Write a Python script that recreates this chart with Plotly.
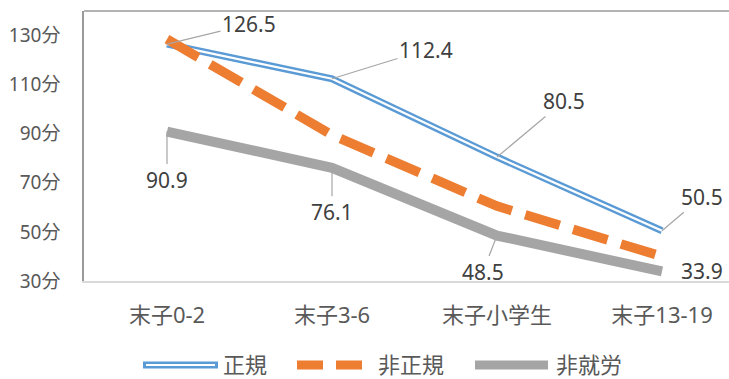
import plotly.graph_objects as go

# ---- data ----
categories = ["末子0-2", "末子3-6", "末子小学生", "末子13-19"]
seiki = [126.5, 112.4, 80.5, 50.5]        # 正規
hiseiki = [128.5, 89.5, 60.5, 40.0]       # 非正規
hishuro = [90.9, 76.1, 48.5, 33.9]        # 非就労
series_names = ["正規", "非正規", "非就労"]
tick_vals = [30, 50, 70, 90, 110, 130]
tick_text = [f"{v}分" for v in tick_vals]

# ---- styles ----
BLUE, ORANGE, GRAY = "#5b9bd5", "#ed7d31", "#a5a5a5"
FONT = "Noto Sans, Noto Sans CJK JP, sans-serif"
W, H = 729, 379
ML, MR, MT, MB = 84, 0, 11, 98
PW, PH = W - ML - MR, H - MT - MB

# (ax, ay, leader line?)
seiki_label_off = [(82, -20, True), (94, -29, True), (67, -56, True), (40, -34, True)]
hishuro_label_off = [(0, 48, True), (0, 44, True), (-14, 36, True), (40, 0, False)]

fig = go.Figure()
fig.add_trace(go.Scatter(x=categories, y=seiki, mode="lines", name=series_names[0],
                         line=dict(color=BLUE, width=7), showlegend=False, hoverinfo="skip"))
fig.add_trace(go.Scatter(x=categories, y=seiki, mode="lines", name=series_names[0],
                         line=dict(color="white", width=2.2), showlegend=False))
fig.add_trace(go.Scatter(x=categories, y=hiseiki, mode="lines", name=series_names[1],
                         line=dict(color=ORANGE, width=9.5, dash="36px,14px"), showlegend=False))
fig.add_trace(go.Scatter(x=categories, y=hishuro, mode="lines", name=series_names[2],
                         line=dict(color=GRAY, width=10), showlegend=False))

annotations = []
label_font = dict(family=FONT, size=21, color="#404040")
for series, offs in ((seiki, seiki_label_off), (hishuro, hishuro_label_off)):
    for cat, val, (ax, ay, leader) in zip(categories, series, offs):
        annotations.append(dict(
            x=cat, y=val, xref="x", yref="y", text=f"{val}",
            showarrow=leader, ax=ax, ay=ay, axref="pixel", ayref="pixel",
            arrowhead=0, arrowwidth=1.2, arrowcolor="#a6a6a6", standoff=0,
            xshift=0 if leader else ax, yshift=0 if leader else -ay,
            font=label_font,
        ))

# ---- manual legend ----
def px_x(p):
    return (p - ML) / PW

def px_y(p):
    return (MT + PH - p) / PH

shapes = []
ly = px_y(365)
# top border of plot area
shapes.append(dict(type="line", xref="paper", yref="paper", x0=0, x1=1, y0=1, y1=1,
                   line=dict(color="#9a9a9a", width=1.5)))
# 正規 (double line)
shapes.append(dict(type="line", xref="paper", yref="paper", x0=px_x(143), x1=px_x(218),
                   y0=ly, y1=ly, line=dict(color=BLUE, width=7)))
shapes.append(dict(type="line", xref="paper", yref="paper", x0=px_x(146), x1=px_x(215),
                   y0=ly, y1=ly, line=dict(color="white", width=2.2)))
# 非正規 (dashes)
shapes.append(dict(type="line", xref="paper", yref="paper", x0=px_x(297), x1=px_x(362),
                   y0=ly, y1=ly, line=dict(color=ORANGE, width=9, dash="26px,13px")))
# 非就労
shapes.append(dict(type="line", xref="paper", yref="paper", x0=px_x(475), x1=px_x(548),
                   y0=ly, y1=ly, line=dict(color=GRAY, width=9)))

legend_font = dict(family=FONT, size=22, color="#595959")
for name, px in zip(series_names, (222, 377, 555)):
    annotations.append(dict(x=px_x(px), y=px_y(364), xref="paper", yref="paper", text=name,
                            showarrow=False, xanchor="left", yanchor="middle",
                            borderpad=0, font=legend_font))

fig.update_layout(
    width=W, height=H,
    margin=dict(l=ML, r=MR, t=MT, b=MB, pad=0),
    paper_bgcolor="white", plot_bgcolor="white",
    font=dict(family=FONT, color="#595959"),
    showlegend=False,
    annotations=annotations,
    shapes=shapes,
)
fig.update_xaxes(
    type="category", range=[-0.503, 3.406],
    showgrid=False, zeroline=False,
    showline=True, linecolor="#d9d9d9", linewidth=1.5,
    ticks="outside", ticklen=14, tickcolor="rgba(0,0,0,0)",
    tickfont=dict(family=FONT, size=22, color="#595959"),
)
fig.update_yaxes(
    range=[30, 140], tickvals=tick_vals, ticktext=tick_text,
    showgrid=False, zeroline=False,
    showline=True, linecolor="#9a9a9a", linewidth=1.5,
    ticks="outside", ticklen=18, tickcolor="rgba(0,0,0,0)",
    tickfont=dict(family=FONT, size=19, color="#595959"),
)

fig.write_html("out.html")
